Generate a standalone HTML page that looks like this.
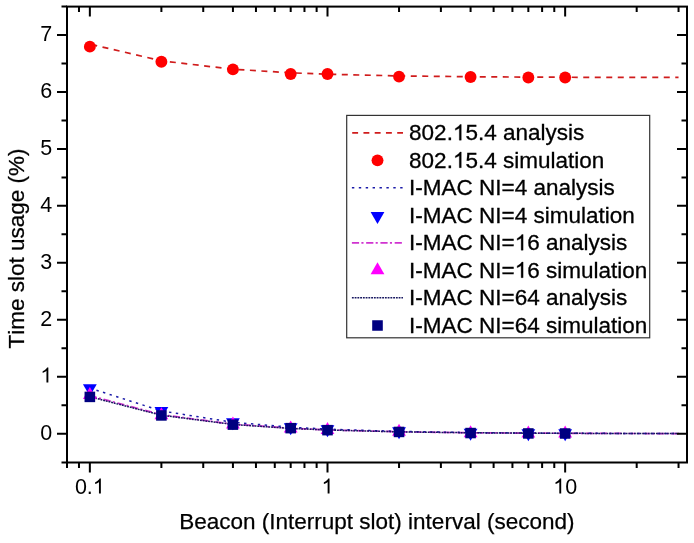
<!DOCTYPE html>
<html><head><meta charset="utf-8"><title>Time slot usage chart</title>
<style>html,body{margin:0;padding:0;background:#fff;width:694px;height:543px;overflow:hidden;font-family:"Liberation Sans",sans-serif;}svg{display:block;will-change:transform;}</style>
</head><body>
<svg width="694" height="543" viewBox="0 0 694 543">
<rect width="100%" height="100%" fill="#fff"/>
<defs><clipPath id="c"><rect x="67.0" y="6.6" width="620.0" height="455.9"/></clipPath></defs>
<g>
<path clip-path="url(#c)" fill="none" d="M89.85,44.09 L161.39,60.84 L232.93,69.21 L290.69,72.8 L327.5,74.24 L399.04,75.91 L470.58,76.75 L528.34,77.11 L565.15,77.25 L636.69,77.42 L678.54,77.47" stroke="#d01c1c" stroke-width="1.7" stroke-dasharray="6 5.5" stroke-dashoffset="10"/>
<circle cx="89.85" cy="46.65" r="5.95" fill="#f00"/>
<circle cx="161.39" cy="61.8" r="5.95" fill="#f00"/>
<circle cx="232.93" cy="69.4" r="5.95" fill="#f00"/>
<circle cx="290.69" cy="74.0" r="5.95" fill="#f00"/>
<circle cx="327.5" cy="74.0" r="5.95" fill="#f00"/>
<circle cx="399.04" cy="76.6" r="5.95" fill="#f00"/>
<circle cx="470.58" cy="77.0" r="5.95" fill="#f00"/>
<circle cx="528.34" cy="77.5" r="5.95" fill="#f00"/>
<circle cx="565.15" cy="77.5" r="5.95" fill="#f00"/>
<path clip-path="url(#c)" fill="none" d="M89.85,395.65 L161.39,414.68 L232.93,424.19 L290.69,428.26 L327.5,429.9 L399.04,431.8 L470.58,432.75 L528.34,433.16 L565.15,433.32 L636.69,433.51 L678.54,433.57" stroke="#d033d0" stroke-width="1.7" stroke-dasharray="7.2 2.3 2.1 2.66"/>
<path clip-path="url(#c)" fill="none" d="M89.85,388.13 L161.39,410.92 L232.93,422.31 L290.69,427.19 L327.5,429.14 L399.04,431.42 L470.58,432.56 L528.34,433.05 L565.15,433.24 L636.69,433.47 L678.54,433.55" stroke="#1a1aa8" stroke-width="1.5" stroke-dasharray="2.4 4.5"/>
<path clip-path="url(#c)" fill="none" d="M89.85,396.79 L161.39,415.24 L232.93,424.47 L290.69,428.43 L327.5,430.01 L399.04,431.85 L470.58,432.78 L528.34,433.17 L565.15,433.33 L636.69,433.52 L678.54,433.58" stroke="#181860" stroke-width="1.5" stroke-dasharray="1.85 0.9"/>
<path d="M82.95,384.2 L96.75,384.2 L89.85,396.2 Z" fill="#0000ff"/>
<path d="M154.49,406.9 L168.29,406.9 L161.39,418.9 Z" fill="#0000ff"/>
<path d="M226.03,418.3 L239.83,418.3 L232.93,430.3 Z" fill="#0000ff"/>
<path d="M283.79,423.2 L297.59,423.2 L290.69,435.2 Z" fill="#0000ff"/>
<path d="M320.6,425.3 L334.4,425.3 L327.5,437.3 Z" fill="#0000ff"/>
<path d="M392.14,427.3 L405.94,427.3 L399.04,439.3 Z" fill="#0000ff"/>
<path d="M463.68,428.8 L477.48,428.8 L470.58,440.8 Z" fill="#0000ff"/>
<path d="M521.44,429.2 L535.24,429.2 L528.34,441.2 Z" fill="#0000ff"/>
<path d="M558.25,429.2 L572.05,429.2 L565.15,441.2 Z" fill="#0000ff"/>
<path d="M82.95,399 L96.75,399 L89.85,387 Z" fill="#ff00ff"/>
<path d="M154.49,419.3 L168.29,419.3 L161.39,407.3 Z" fill="#ff00ff"/>
<path d="M226.03,428.4 L239.83,428.4 L232.93,416.4 Z" fill="#ff00ff"/>
<path d="M283.79,432.6 L297.59,432.6 L290.69,420.6 Z" fill="#ff00ff"/>
<path d="M320.6,433.9 L334.4,433.9 L327.5,421.9 Z" fill="#ff00ff"/>
<path d="M392.14,435.7 L405.94,435.7 L399.04,423.7 Z" fill="#ff00ff"/>
<path d="M463.68,437.2 L477.48,437.2 L470.58,425.2 Z" fill="#ff00ff"/>
<path d="M521.44,437.5 L535.24,437.5 L528.34,425.5 Z" fill="#ff00ff"/>
<path d="M558.25,437.6 L572.05,437.6 L565.15,425.6 Z" fill="#ff00ff"/>
<rect x="84.55" y="391.65" width="10.6" height="10.5" fill="#000080"/>
<rect x="156.09" y="410.2" width="10.6" height="10.5" fill="#000080"/>
<rect x="227.63" y="419.4" width="10.6" height="10.5" fill="#000080"/>
<rect x="285.39" y="422.9" width="10.6" height="10.5" fill="#000080"/>
<rect x="322.2" y="424.9" width="10.6" height="10.5" fill="#000080"/>
<rect x="393.74" y="426.7" width="10.6" height="10.5" fill="#000080"/>
<rect x="465.28" y="427.8" width="10.6" height="10.5" fill="#000080"/>
<rect x="523.04" y="428.2" width="10.6" height="10.5" fill="#000080"/>
<rect x="559.85" y="428.25" width="10.6" height="10.5" fill="#000080"/>
<path d="M61.5,462.5H67M57,433.7H67M677,433.7H687M61.5,405.22H67M681.5,405.22H687M57,376.74H67M677,376.74H687M61.5,348.26H67M681.5,348.26H687M57,319.78H67M677,319.78H687M61.5,291.3H67M681.5,291.3H687M57,262.82H67M677,262.82H687M61.5,234.34H67M681.5,234.34H687M57,205.86H67M677,205.86H687M61.5,177.38H67M681.5,177.38H687M57,148.9H67M677,148.9H687M61.5,120.42H67M681.5,120.42H687M57,91.94H67M677,91.94H687M61.5,63.46H67M681.5,63.46H687M57,34.98H67M677,34.98H687M61.5,6.6H67M67,462.5V468M78.98,462.5V468M78.98,6.6V12.1M89.85,462.5V472.5M89.85,6.6V16.6M161.39,462.5V468M161.39,6.6V12.1M203.24,462.5V468M203.24,6.6V12.1M232.93,462.5V468M232.93,6.6V12.1M255.96,462.5V468M255.96,6.6V12.1M274.78,462.5V468M274.78,6.6V12.1M290.69,462.5V468M290.69,6.6V12.1M304.47,462.5V468M304.47,6.6V12.1M316.63,462.5V468M316.63,6.6V12.1M327.5,462.5V472.5M327.5,6.6V16.6M399.04,462.5V468M399.04,6.6V12.1M440.89,462.5V468M440.89,6.6V12.1M470.58,462.5V468M470.58,6.6V12.1M493.61,462.5V468M493.61,6.6V12.1M512.43,462.5V468M512.43,6.6V12.1M528.34,462.5V468M528.34,6.6V12.1M542.12,462.5V468M542.12,6.6V12.1M554.28,462.5V468M554.28,6.6V12.1M565.15,462.5V472.5M565.15,6.6V16.6M636.69,462.5V468M636.69,6.6V12.1M678.54,462.5V468M678.54,6.6V12.1" stroke="#000" stroke-width="2" fill="none"/>
<rect x="67.0" y="6.6" width="620.0" height="455.9" stroke="#000" stroke-width="2" fill="none"/>
<g font-family="Liberation Sans" fill="#000" style="font-kerning:none">
<text x="40.34" y="439.5" font-size="21.5">0</text>
<text x="40.34" y="382.54" font-size="21.5"> </text>
<path d="M48.35,382.54L46.46,382.54L46.46,370.84C46.01,371.26 45.42,371.68 44.67,372.11C43.92,372.53 43.25,372.85 42.67,373.06L42.67,371.28C43.72,370.8 44.65,370.22 45.44,369.53C46.23,368.84 46.8,368.17 47.12,367.53L48.35,367.53Z"/>
<text x="40.34" y="325.58" font-size="21.5">2</text>
<text x="40.34" y="268.62" font-size="21.5">3</text>
<text x="40.34" y="211.66" font-size="21.5">4</text>
<text x="40.34" y="154.7" font-size="21.5">5</text>
<text x="40.34" y="97.74" font-size="21.5">6</text>
<text x="40.34" y="40.78" font-size="21.5">7</text>
<text x="74.91" y="493.6" font-size="21.5">0. </text>
<path d="M100.85,493.6L98.96,493.6L98.96,481.9C98.51,482.32 97.92,482.74 97.16,483.17C96.42,483.59 95.74,483.91 95.17,484.12L95.17,482.34C96.22,481.86 97.14,481.28 97.94,480.59C98.73,479.9 99.29,479.23 99.62,478.59L100.85,478.59Z"/>
<text x="321.52" y="493.6" font-size="21.5"> </text>
<path d="M329.53,493.6L327.64,493.6L327.64,481.9C327.19,482.32 326.6,482.74 325.85,483.17C325.1,483.59 324.43,483.91 323.85,484.12L323.85,482.34C324.9,481.86 325.83,481.28 326.62,480.59C327.41,479.9 327.98,479.23 328.3,478.59L329.53,478.59Z"/>
<text x="553.19" y="493.6" font-size="21.5"> 0</text>
<path d="M561.2,493.6L559.31,493.6L559.31,481.9C558.86,482.32 558.27,482.74 557.52,483.17C556.77,483.59 556.1,483.91 555.52,484.12L555.52,482.34C556.57,481.86 557.5,481.28 558.29,480.59C559.08,479.9 559.65,479.23 559.97,478.59L561.2,478.59Z"/>
</g>
<g font-family="Liberation Sans" fill="#000" stroke="#000" stroke-width="0.25" style="font-kerning:none">
<text x="179.25" y="529" font-size="22.5">Beacon (Interrupt slot) interval (second)</text>
<text transform="translate(23.7,348.5) rotate(-90)" font-size="22.5">Time slot usage (%)</text>
</g>
<rect x="346.7" y="115.4" width="303" height="222.4" fill="#fff" stroke="#333" stroke-width="1.2"/>
<g font-family="Liberation Sans" fill="#000" stroke="#000" stroke-width="0.3" style="font-kerning:none">
<text x="409.1" y="140.2" font-size="22.5">802. 5.4 analysis</text>
<path d="M461.27,140.2L459.3,140.2L459.3,127.96C458.82,128.4 458.21,128.83 457.42,129.28C456.64,129.72 455.93,130.06 455.33,130.27L455.33,128.42C456.43,127.92 457.4,127.31 458.23,126.58C459.05,125.87 459.65,125.16 459.99,124.49L461.27,124.49Z"/>
<text x="409.1" y="167.7" font-size="22.5">802. 5.4 simulation</text>
<path d="M461.27,167.7L459.3,167.7L459.3,155.46C458.82,155.9 458.21,156.33 457.42,156.78C456.64,157.22 455.93,157.56 455.33,157.77L455.33,155.92C456.43,155.42 457.4,154.81 458.23,154.08C459.05,153.37 459.65,152.66 459.99,151.99L461.27,151.99Z"/>
<text x="409.1" y="195.2" font-size="22.5">I-MAC NI=4 analysis</text>
<text x="409.1" y="222.7" font-size="22.5">I-MAC NI=4 simulation</text>
<text x="409.1" y="250.2" font-size="22.5">I-MAC NI= 6 analysis</text>
<path d="M523.12,250.2L521.14,250.2L521.14,237.96C520.67,238.4 520.05,238.83 519.26,239.28C518.48,239.72 517.78,240.06 517.17,240.27L517.17,238.42C518.27,237.92 519.24,237.31 520.07,236.58C520.9,235.87 521.49,235.16 521.83,234.49L523.12,234.49Z"/>
<text x="409.1" y="277.7" font-size="22.5">I-MAC NI= 6 simulation</text>
<path d="M523.12,277.7L521.14,277.7L521.14,265.46C520.67,265.9 520.05,266.33 519.26,266.78C518.48,267.22 517.78,267.56 517.17,267.77L517.17,265.92C518.27,265.42 519.24,264.81 520.07,264.08C520.9,263.37 521.49,262.66 521.83,261.99L523.12,261.99Z"/>
<text x="409.1" y="305.2" font-size="22.5">I-MAC NI=64 analysis</text>
<text x="409.1" y="332.7" font-size="22.5">I-MAC NI=64 simulation</text>
</g>
<path d="M352.2,132.85H403.0" stroke="#d01c1c" stroke-width="1.7" stroke-dasharray="5.9 5.35"/>
<circle cx="377.5" cy="160.35" r="5.95" fill="#f00"/>
<path d="M351.9,187.85H403.0" stroke="#1a1aa8" stroke-width="1.5" stroke-dasharray="2.4 4.5"/>
<path d="M370.6,211.95 L384.4,211.95 L377.5,223.95 Z" fill="#0000ff"/>
<path d="M351.9,242.85H403.0" stroke="#d033d0" stroke-width="1.7" stroke-dasharray="7.2 2.3 2.1 2.66"/>
<path d="M370.6,274.35 L384.4,274.35 L377.5,262.35 Z" fill="#ff00ff"/>
<path d="M351.9,297.85H403.0" stroke="#181860" stroke-width="1.5" stroke-dasharray="1.85 0.9"/>
<rect x="372.2" y="320.25" width="10.6" height="10.5" fill="#000080"/>
</g>
</svg>
</body></html>
